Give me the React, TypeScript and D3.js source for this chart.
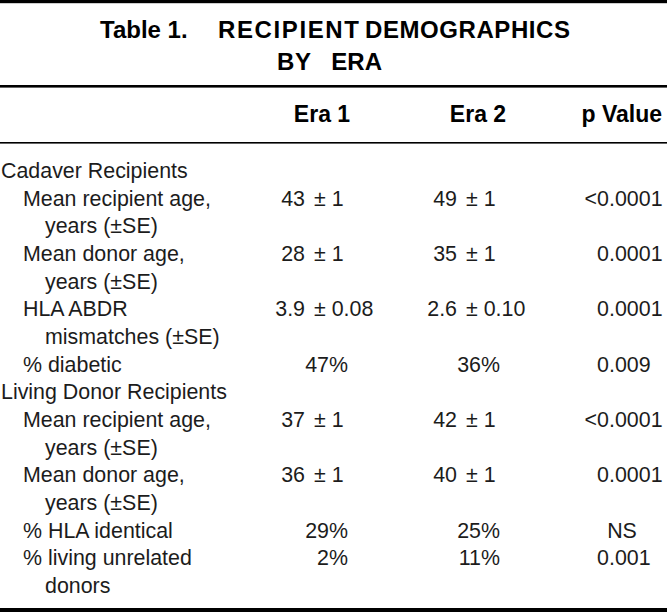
import React from "react";
import * as d3 from "d3";

// ---- Data ----
const titleWords = ["Table 1.", "RECIPIENT", "DEMOGRAPHICS"];
const titleLine2 = ["BY", "ERA"];
const columnHeaders = ["Era 1", "Era 2", "p Value"];

type Row = { lines: string[]; level: number };
const rowLabels: Row[] = [
  { lines: ["Cadaver Recipients"], level: 0 },
  { lines: ["Mean recipient age,", "years (\u00B1SE)"], level: 1 },
  { lines: ["Mean donor age,", "years (\u00B1SE)"], level: 1 },
  { lines: ["HLA ABDR", "mismatches (\u00B1SE)"], level: 1 },
  { lines: ["% diabetic"], level: 1 },
  { lines: ["Living Donor Recipients"], level: 0 },
  { lines: ["Mean recipient age,", "years (\u00B1SE)"], level: 1 },
  { lines: ["Mean donor age,", "years (\u00B1SE)"], level: 1 },
  { lines: ["% HLA identical"], level: 1 },
  { lines: ["% living unrelated", "donors"], level: 1 },
];
const era1Values = ["", "43 \u00B1 1", "28 \u00B1 1", "3.9 \u00B1 0.08", "47%", "", "37 \u00B1 1", "36 \u00B1 1", "29%", "2%"];
const era2Values = ["", "49 \u00B1 1", "35 \u00B1 1", "2.6 \u00B1 0.10", "36%", "", "42 \u00B1 1", "40 \u00B1 1", "25%", "11%"];
const pValues = ["", "<0.0001", "0.0001", "0.0001", "0.009", "", "<0.0001", "0.0001", "NS", "0.001"];

// ---- Layout ----
const W = 667;
const H = 615;
const FONT = "'Liberation Sans', Arial, Helvetica, sans-serif";
const BODY_SIZE = 21.4;
const INK = "#1c1c1c";

// line index -> baseline
const totalLines = rowLabels.reduce((s, r) => s + r.lines.length, 0);
const yLine = d3.scaleLinear().domain([0, totalLines - 1]).range([178, 593]);
// indentation level -> x
const xIndent = d3.scaleOrdinal<number, number>().domain([0, 1, 2]).range([1, 23, 45]);

const eraCols = [
  { numEnd: 305, pmStart: 314, pctEnd: 348, header: 322 },
  { numEnd: 457, pmStart: 466, pctEnd: 500, header: 478 },
];
const pCol = { decimal: 609, nsMid: 622, headerEnd: 662 };

function EraCell({ v, y, col }: { v: string; y: number; col: typeof eraCols[0] }) {
  if (!v) return null;
  if (v.includes("\u00B1")) {
    const [left, right] = v.split(" \u00B1 ");
    return (
      <g>
        <text x={col.numEnd} y={y} textAnchor="end">{left}</text>
        <text x={col.pmStart} y={y} textAnchor="start">{"\u00B1 " + right}</text>
      </g>
    );
  }
  return <text x={col.pctEnd} y={y} textAnchor="end">{v}</text>;
}

function PCell({ v, y }: { v: string; y: number }) {
  if (!v) return null;
  const i = v.indexOf(".");
  if (i < 0) return <text x={pCol.nsMid} y={y} textAnchor="middle">{v}</text>;
  return (
    <g>
      <text x={pCol.decimal} y={y} textAnchor="end">{v.slice(0, i)}</text>
      <text x={pCol.decimal} y={y} textAnchor="start">{v.slice(i)}</text>
    </g>
  );
}

export default function App() {
  let lineIdx = 0;
  const rows = rowLabels.map((r, ri) => {
    const start = lineIdx;
    lineIdx += r.lines.length;
    const y0 = yLine(start);
    return (
      <g key={ri}>
        {r.lines.map((ln, li) => (
          <text key={li} x={xIndent(r.level + (li > 0 ? 1 : 0))} y={yLine(start + li)}>
            {ln}
          </text>
        ))}
        <EraCell v={era1Values[ri]} y={y0} col={eraCols[0]} />
        <EraCell v={era2Values[ri]} y={y0} col={eraCols[1]} />
        <PCell v={pValues[ri]} y={y0} />
      </g>
    );
  });

  return (
    <svg
      width={W}
      height={H}
      viewBox={`0 0 ${W} ${H}`}
      style={{ position: "absolute", left: 0, top: 0, background: "#fff" }}
    >
      <rect x={0} y={0} width={W} height={H} fill="#fff" />
      {/* rules */}
      <rect x={0} y={0} width={W} height={3.2} fill="#000" />
      <rect x={0} y={85} width={W} height={2.6} fill="#000" />
      <rect x={0} y={142} width={W} height={1.6} fill="#000" />
      <rect x={0} y={608} width={W} height={4} fill="#000" />

      {/* title */}
      <g fontFamily={FONT} fontWeight="bold" fontSize={24} fill="#000">
        <text x={100} y={37.5}>{titleWords[0]}</text>
        <text x={218} y={37.5} textLength={141} lengthAdjust="spacing">{titleWords[1]}</text>
        <text x={365} y={37.5} textLength={205} lengthAdjust="spacing">{titleWords[2]}</text>
        <text x={277} y={69.5} textLength={34} lengthAdjust="spacing">{titleLine2[0]}</text>
        <text x={382} y={69.5} textAnchor="end">{titleLine2[1]}</text>
      </g>

      {/* column headers */}
      <g fontFamily={FONT} fontWeight="bold" fontSize={23} fill="#000">
        <text x={eraCols[0].header} y={122} textAnchor="middle">{columnHeaders[0]}</text>
        <text x={eraCols[1].header} y={122} textAnchor="middle">{columnHeaders[1]}</text>
        <text x={pCol.headerEnd} y={122} textAnchor="end">{columnHeaders[2]}</text>
      </g>

      {/* body */}
      <g fontFamily={FONT} fontSize={BODY_SIZE} fill={INK}>
        {rows}
      </g>
    </svg>
  );
}
